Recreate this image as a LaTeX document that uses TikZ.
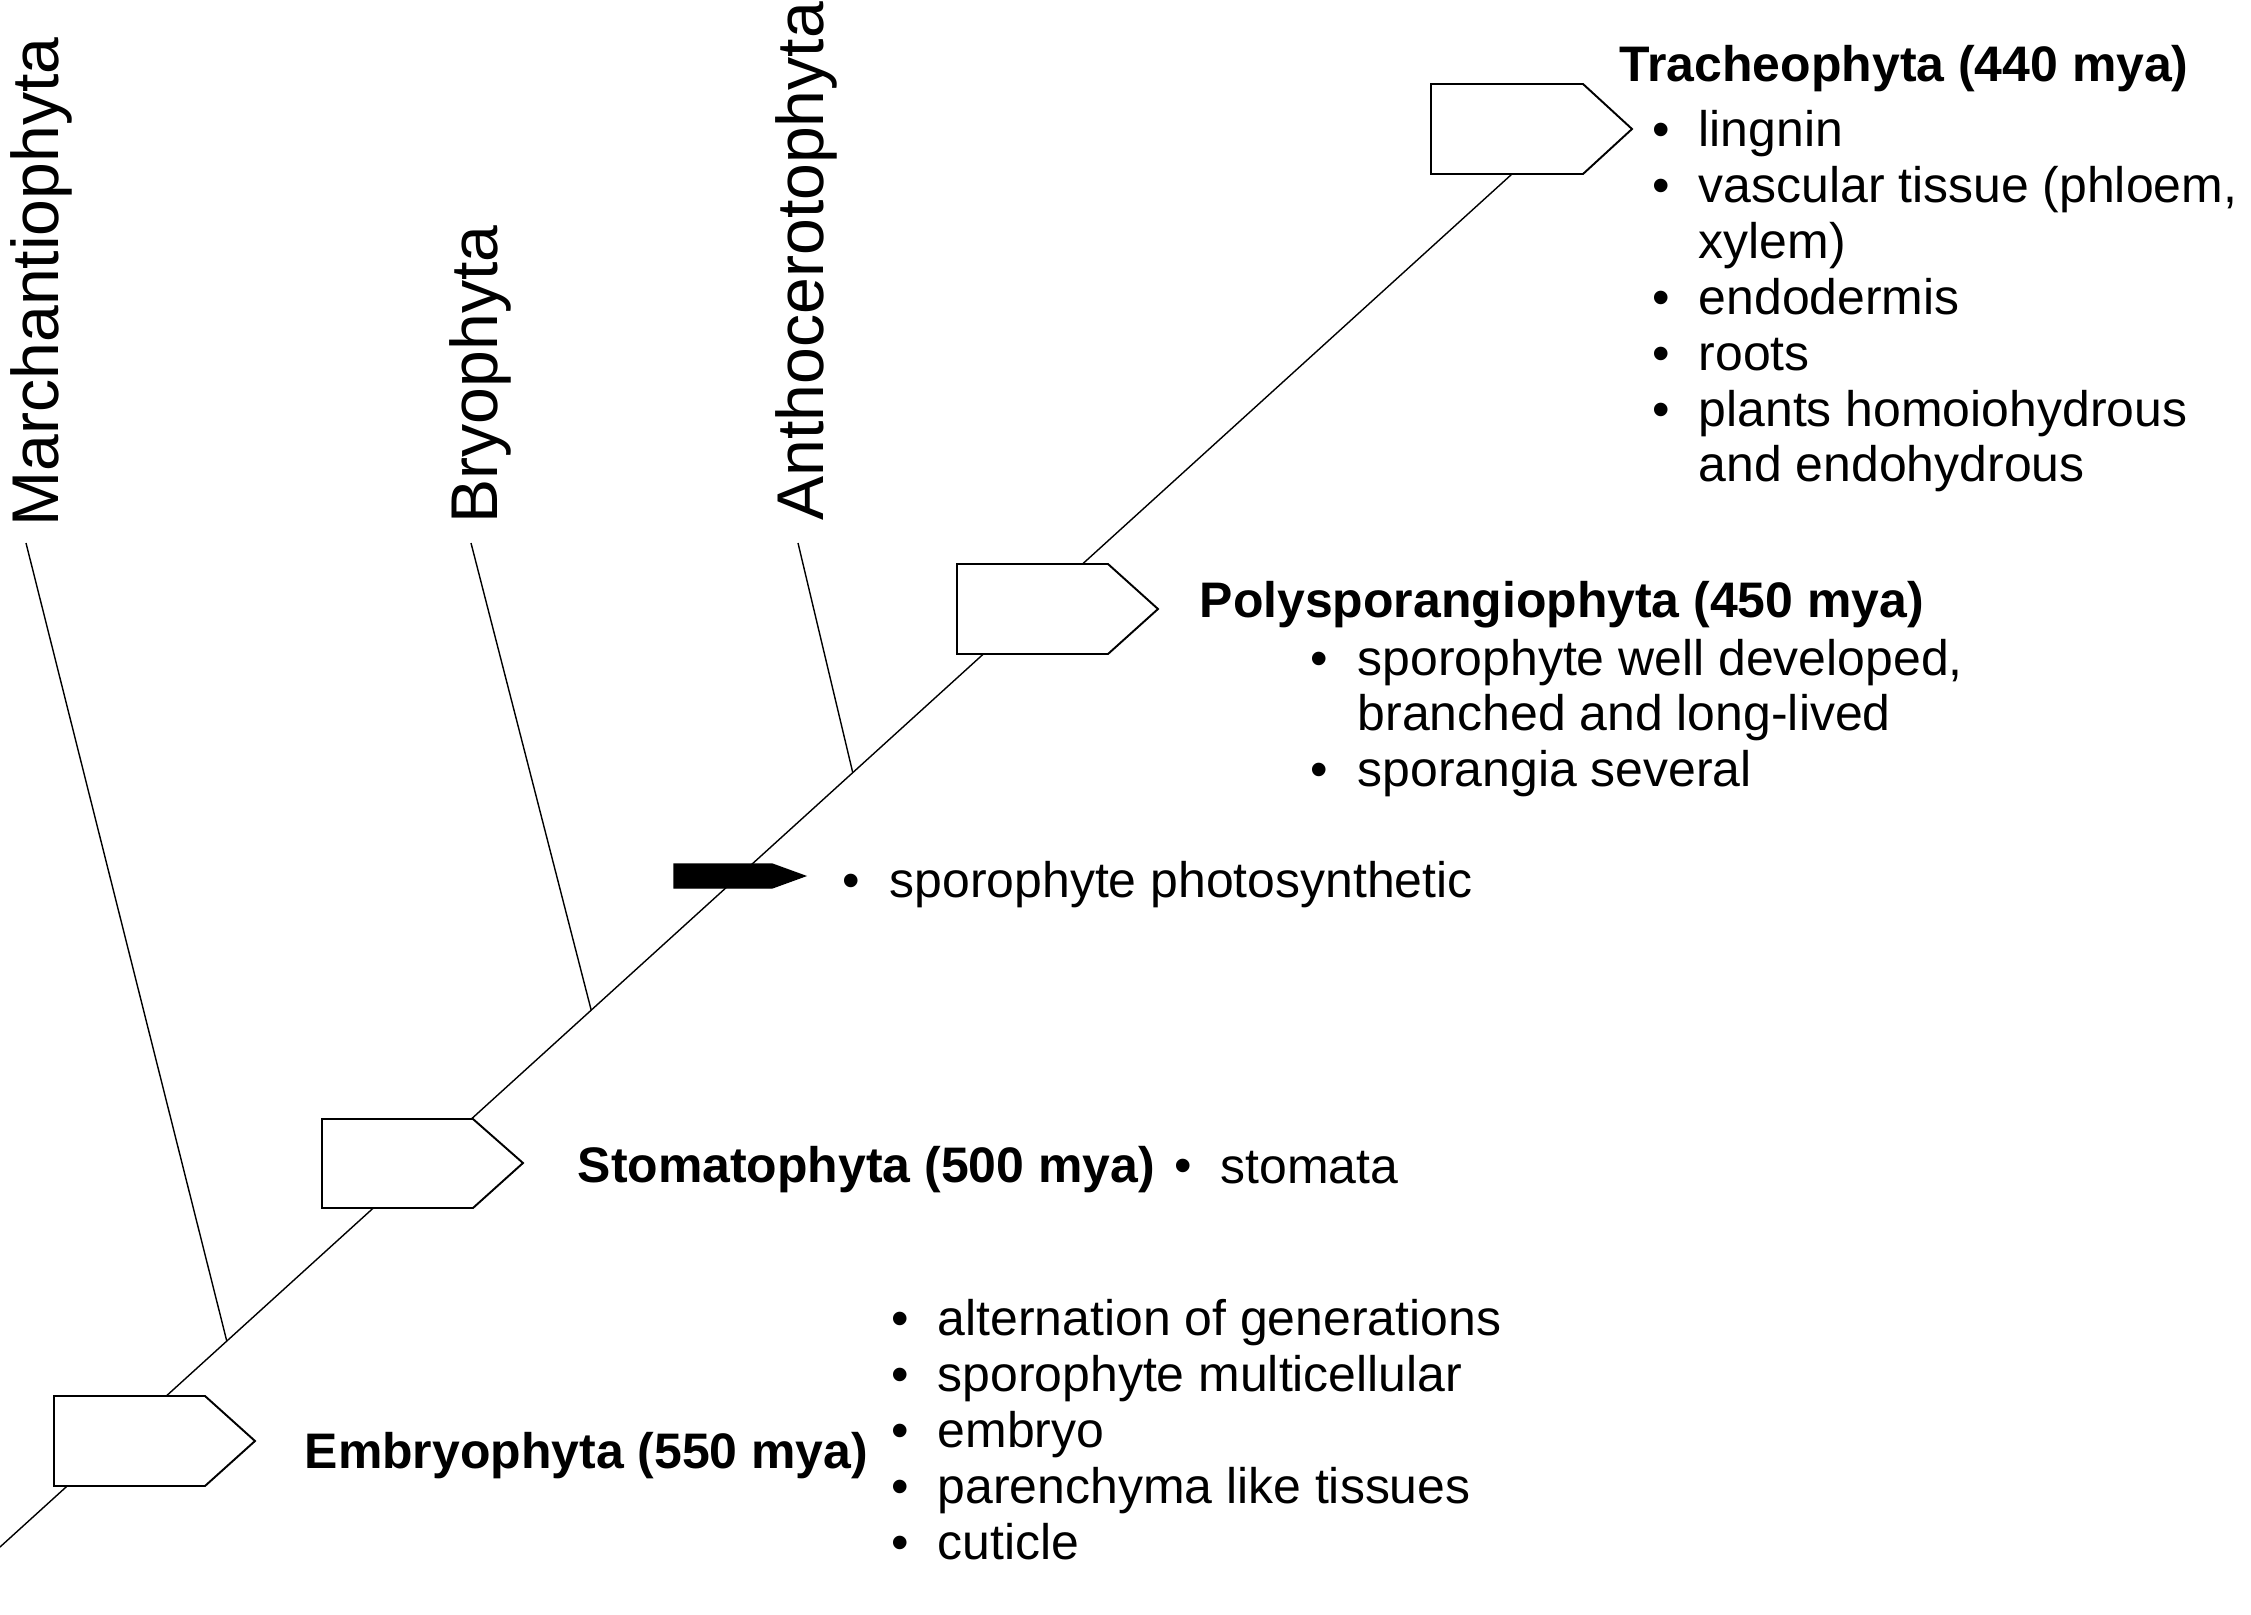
\documentclass[tikz,border=0pt]{standalone}
\usepackage{fontspec}
\setmainfont{Liberation Sans}
\begin{document}
\begin{tikzpicture}[x=0.01cm,y=-0.01cm,
  txt/.style={anchor=base west, inner sep=0pt, font=\fontsize{14.2}{16}\selectfont},
  head/.style={anchor=base west, inner sep=0pt, font=\fontsize{14.2}{16}\selectfont\bfseries},
  bul/.style={anchor=base, inner sep=0pt, font=\fontsize{14.2}{16}\selectfont},
  clade/.style={anchor=base west, inner sep=0pt, rotate=90, font=\fontsize{18.8}{20}\selectfont},
  stem/.style={line width=0.4pt},
  sigbox/.style={draw, fill=white, line width=0.55pt, line join=miter},
  blackbox/.style={draw, fill=black, line width=0.4pt, line join=miter}]
\useasboundingbox (0,0) rectangle (2251,1615);

% main stem
\coordinate (root) at (0,1547);
\coordinate (top) at (1512,174);
\draw[stem] (root) -- (top)
  coordinate[pos=0.150] (jm)
  coordinate[pos=0.391] (jb)
  coordinate[pos=0.564] (ja);

% branches
\coordinate (tm) at (26,543);
\coordinate (tb) at (471,543);
\coordinate (ta) at (798,543);
\draw[stem] (tm) -- (jm);
\draw[stem] (tb) -- (jb);
\draw[stem] (ta) -- (ja);

% clade labels
\node[clade] (marc) at (58,527) {Marchantiophyta};
\node[clade] (bryo) at (497,524) {Bryophyta};
\node[clade] (anth) at (823,521) {Anthocerotophyta};

% boxes
\draw[sigbox] (54,1396) -- (205,1396) -- (255,1441) -- (205,1486) -- (54,1486) -- cycle;
\draw[sigbox] (322,1119) -- (473,1119) -- (523,1163) -- (473,1208) -- (322,1208) -- cycle;
\draw[blackbox] (674,864) -- (772,864) -- (805,876) -- (772,888) -- (674,888) -- cycle;
\draw[sigbox] (957,564) -- (1108,564) -- (1158,609) -- (1108,654) -- (957,654) -- cycle;
\draw[sigbox] (1431,84) -- (1583,84) -- (1632,129) -- (1583,174) -- (1431,174) -- cycle;

% Tracheophyta
\node[head] (trh) at (1619,81) {Tracheophyta (440 mya)};
\node[bul] (trb1) at (1661,146) {\textbullet};
\node[txt] (tr1) at (1698,146) {lingnin};
\node[bul] (trb2) at (1661,202) {\textbullet};
\node[txt] (tr2) at (1698,202) {vascular tissue (phloem,};
\node[txt] (tr2b) at (1698,258) {xylem)};
\node[bul] (trb3) at (1661,314) {\textbullet};
\node[txt] (tr3) at (1698,314) {endodermis};
\node[bul] (trb4) at (1661,370) {\textbullet};
\node[txt] (tr4) at (1698,370) {roots};
\node[bul] (trb5) at (1661,426) {\textbullet};
\node[txt] (tr5) at (1698,426) {plants homoiohydrous};
\node[txt] (tr5b) at (1698,481) {and endohydrous};

% Polysporangiophyta
\node[head] (poh) at (1199,617) {Polysporangiophyta (450 mya)};
\node[bul] (pob1) at (1319,675) {\textbullet};
\node[txt] (po1) at (1357,675) {sporophyte well developed,};
\node[txt] (po1b) at (1357,730) {branched and long-lived};
\node[bul] (pob2) at (1319,786) {\textbullet};
\node[txt] (po2) at (1357,786) {sporangia several};

% photosynthetic
\node[bul] (phb) at (851,897) {\textbullet};
\node[txt] (ph) at (889,897) {sporophyte photosynthetic};

% Stomatophyta
\node[head] (sth) at (577,1182) {Stomatophyta (500 mya)};
\node[bul] (stb) at (1183,1182) {\textbullet};
\node[txt] (st) at (1220,1183) {stomata};

% Embryophyta
\node[head] (emh) at (304,1468) {Embryophyta (550 mya)};
\node[bul] (emb1) at (900,1335) {\textbullet};
\node[txt] (em1) at (937,1335) {alternation of generations};
\node[bul] (emb2) at (900,1391) {\textbullet};
\node[txt] (em2) at (937,1391) {sporophyte multicellular};
\node[bul] (emb3) at (900,1447) {\textbullet};
\node[txt] (em3) at (937,1447) {embryo};
\node[bul] (emb4) at (900,1503) {\textbullet};
\node[txt] (em4) at (937,1503) {parenchyma like tissues};
\node[bul] (emb5) at (900,1559) {\textbullet};
\node[txt] (em5) at (937,1559) {cuticle};
\end{tikzpicture}
\end{document}
